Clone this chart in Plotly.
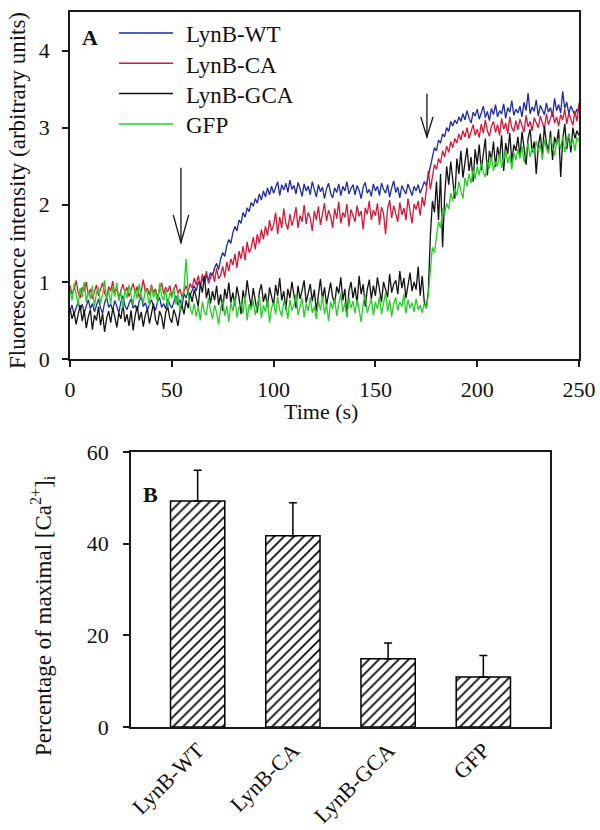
import plotly.graph_objects as go

# ---------------- Panel A data (time course, 1 s sampling) ----------------
time_s = list(range(0, 251))

lynb_wt = [
    0.62,0.70,0.58,0.66,0.74,0.63,0.71,0.60,0.68,0.77,
    0.65,0.72,0.61,0.69,0.78,0.66,0.59,0.73,0.80,0.67,
    0.71,0.63,0.76,0.68,0.60,0.74,0.82,0.69,0.64,0.72,
    0.78,0.66,0.70,0.62,0.75,0.81,0.68,0.73,0.64,0.70,
    0.77,0.69,0.63,0.74,0.80,0.67,0.72,0.65,0.78,0.71,
    0.66,0.74,0.82,0.70,0.77,0.68,0.85,0.79,0.88,0.83,
    0.90,0.95,0.88,1.00,0.96,1.04,0.99,1.08,1.02,1.12,
    1.08,1.18,1.24,1.16,1.30,1.38,1.33,1.47,1.55,1.50,
    1.64,1.72,1.66,1.80,1.76,1.90,1.84,1.96,1.91,2.03,
    1.98,2.08,2.02,2.14,2.06,2.18,2.10,2.22,2.13,2.24,
    2.15,2.22,2.30,2.12,2.26,2.19,2.28,2.16,2.32,2.20,
    2.25,2.14,2.29,2.21,2.11,2.27,2.18,2.24,2.13,2.30,
    2.19,2.10,2.26,2.17,2.23,2.08,2.21,2.28,2.15,2.09,
    2.22,2.16,2.27,2.12,2.24,2.18,2.30,2.14,2.21,2.26,
    2.13,2.25,2.19,2.08,2.23,2.29,2.15,2.20,2.11,2.27,
    2.18,2.24,2.12,2.28,2.20,2.15,2.26,2.10,2.22,2.31,
    2.16,2.23,2.09,2.25,2.19,2.14,2.27,2.20,2.12,2.24,
    2.18,2.26,2.15,2.22,2.30,2.25,2.38,2.50,2.62,2.74,
    2.70,2.84,2.80,2.92,2.88,3.00,2.95,3.08,3.02,3.10,
    3.05,3.14,3.08,3.18,3.10,3.22,3.12,3.06,3.20,3.15,
    3.24,3.11,3.19,3.28,3.13,3.21,3.09,3.25,3.17,3.30,
    3.14,3.22,3.18,3.31,3.12,3.26,3.20,3.35,3.16,3.24,
    3.19,3.28,3.14,3.33,3.22,3.45,3.18,3.27,3.21,3.36,
    3.15,3.29,3.23,3.17,3.32,3.20,3.26,3.14,3.38,3.22,
    3.30,3.19,3.47,3.25,3.33,3.18,3.28,3.22,3.16,3.24,
    3.20,
]

lynb_ca = [
    0.95,0.84,0.90,1.02,0.86,0.79,0.93,0.88,1.00,0.83,
    0.91,0.78,0.87,0.96,0.82,0.90,0.99,0.85,0.80,0.94,
    0.88,1.01,0.84,0.92,0.79,0.89,0.97,0.86,0.93,0.81,
    0.90,0.98,0.85,0.94,0.80,0.88,1.03,0.87,0.92,0.83,
    0.96,0.86,0.91,0.80,0.89,0.99,0.84,0.93,0.87,0.95,
    0.82,0.90,0.97,0.85,0.91,0.80,0.88,0.95,0.86,0.98,
    0.92,1.05,0.96,1.08,0.94,1.10,1.00,1.14,0.98,1.06,
    1.12,1.00,1.18,1.04,1.09,1.20,1.06,1.26,1.14,1.30,
    1.22,1.36,1.18,1.40,1.30,1.46,1.28,1.52,1.38,1.44,
    1.58,1.42,1.62,1.50,1.68,1.55,1.72,1.60,1.80,1.66,
    1.74,1.90,1.62,1.84,1.70,1.95,1.76,1.68,1.88,1.73,
    1.82,1.97,1.70,1.86,1.78,2.00,1.75,1.90,1.83,1.66,
    1.92,1.80,1.98,1.74,1.88,2.02,1.79,1.93,1.85,1.70,
    1.95,1.82,2.04,1.76,1.90,1.84,2.01,1.72,1.94,1.86,
    1.78,1.99,1.85,1.92,1.68,1.96,1.88,2.05,1.80,1.93,
    1.86,2.02,1.74,1.97,1.89,1.62,1.95,2.06,1.83,1.99,
    1.90,1.78,2.03,1.87,1.96,1.80,2.08,1.92,1.76,2.01,
    1.94,2.05,1.86,2.10,1.98,2.18,2.44,2.20,2.36,2.52,
    2.46,2.60,2.54,2.70,2.62,2.76,2.68,2.82,2.74,2.86,
    2.80,2.92,2.84,2.96,2.88,3.00,2.86,2.94,3.04,2.90,
    2.98,2.87,3.05,2.93,3.10,2.96,2.89,3.02,3.08,2.94,
    3.04,2.90,3.12,2.98,3.06,2.92,3.14,3.00,2.95,3.09,
    2.97,3.11,3.03,2.94,3.16,3.01,3.08,2.96,3.13,3.05,
    3.00,3.15,3.07,2.98,3.18,3.04,3.12,3.21,3.06,3.14,
    3.02,3.17,3.10,3.24,3.05,3.19,3.11,3.03,3.22,3.08,
    3.32,
]

lynb_gca = [
    0.66,0.52,0.61,0.45,0.58,0.70,0.49,0.63,0.40,0.55,
    0.64,0.38,0.57,0.50,0.68,0.44,0.59,0.35,0.53,0.62,
    0.47,0.66,0.55,0.41,0.60,0.52,0.71,0.48,0.58,0.43,
    0.63,0.37,0.56,0.69,0.50,0.61,0.42,0.57,0.65,0.46,
    0.59,0.72,0.51,0.44,0.62,0.55,0.39,0.60,0.68,0.53,
    0.47,0.64,0.56,0.43,0.61,0.70,0.58,0.76,0.66,0.85,
    0.74,0.90,0.80,0.68,0.98,0.86,1.08,0.79,0.92,0.72,
    0.88,0.76,0.95,0.70,0.84,0.62,0.91,0.78,0.99,0.73,
    0.86,0.69,0.94,0.80,0.58,0.89,0.75,1.02,0.83,0.67,
    0.92,0.78,0.60,0.87,0.97,0.74,0.85,0.68,0.93,0.81,
    0.70,0.96,0.82,1.05,0.76,0.88,0.64,0.91,0.79,1.00,
    0.84,0.66,0.95,0.78,0.89,1.02,0.73,0.86,0.97,0.75,
    0.90,0.62,0.83,1.04,0.77,0.93,0.70,0.87,0.99,0.80,
    0.72,0.94,0.85,1.06,0.76,0.91,0.55,0.88,1.00,0.79,
    0.93,0.71,1.08,0.84,0.97,0.68,0.90,1.03,0.78,0.95,
    0.82,1.06,0.88,0.74,1.00,0.91,0.80,1.10,0.86,0.97,
    1.02,0.84,1.14,0.92,1.05,0.79,0.98,1.12,0.88,1.00,
    0.90,1.20,0.82,1.08,0.74,0.66,0.88,1.60,2.05,1.90,
    2.30,1.80,2.40,1.45,2.10,2.50,2.26,2.56,2.32,2.08,
    2.60,2.40,2.70,2.35,2.55,2.74,2.44,2.62,2.30,2.72,
    2.52,2.78,2.45,2.66,2.86,2.38,2.70,2.58,2.82,2.49,
    2.75,2.60,2.90,2.44,2.80,2.66,2.93,2.55,2.78,2.70,
    2.88,2.62,2.95,2.74,2.52,2.86,2.98,2.68,2.82,2.40,
    2.76,2.92,2.64,3.02,2.80,2.70,2.96,2.58,2.88,2.78,
    2.98,2.36,2.84,3.05,2.72,2.92,2.68,3.00,2.86,2.96,
    2.90,
]

gfp = [
    0.90,0.76,0.98,0.84,0.70,0.92,0.80,1.00,0.74,0.88,
    0.78,0.95,0.68,0.86,0.93,0.72,0.83,1.02,0.77,0.89,
    0.71,0.94,0.81,0.99,0.75,0.87,0.66,0.91,0.79,0.96,
    0.84,0.70,0.92,0.78,0.97,0.82,0.73,0.90,0.85,0.69,
    0.94,0.80,0.88,0.72,0.98,0.83,0.76,0.91,0.67,0.86,
    0.79,0.93,0.71,0.84,0.62,0.78,0.92,1.30,0.88,0.66,
    0.58,0.72,0.55,0.68,0.50,0.74,0.61,0.57,0.79,0.63,
    0.52,0.70,0.60,0.45,0.66,0.77,0.56,0.69,0.48,0.73,
    0.62,0.80,0.54,0.67,0.74,0.59,0.83,0.50,0.71,0.64,
    0.76,0.57,0.68,0.82,0.53,0.70,0.61,0.78,0.47,0.66,
    0.73,0.58,0.81,0.64,0.55,0.75,0.69,0.52,0.77,0.63,
    0.70,0.84,0.57,0.67,0.79,0.54,0.72,0.62,0.80,0.60,
    0.68,0.52,0.76,0.63,0.82,0.58,0.71,0.49,0.74,0.65,
    0.79,0.56,0.70,0.85,0.61,0.73,0.54,0.80,0.66,0.75,
    0.59,0.77,0.64,0.48,0.72,0.83,0.60,0.69,0.78,0.57,
    0.74,0.65,0.81,0.58,0.70,0.86,0.62,0.76,0.55,0.72,
    0.80,0.63,0.74,0.68,0.84,0.59,0.77,0.66,0.73,0.61,
    0.78,0.64,0.70,0.60,0.72,0.66,0.84,1.10,1.45,1.38,
    1.62,1.78,1.70,1.95,1.88,2.02,1.94,2.15,2.05,2.22,
    2.12,2.30,2.18,2.08,2.35,2.24,2.40,2.28,2.45,2.33,
    2.50,2.38,2.55,2.42,2.36,2.58,2.47,2.62,2.44,2.56,
    2.50,2.66,2.48,2.60,2.70,2.54,2.64,2.46,2.68,2.58,
    2.72,2.60,2.76,2.55,2.68,2.80,2.62,2.74,2.66,2.83,
    2.70,2.78,2.58,2.84,2.73,2.66,2.88,2.75,2.64,2.81,
    2.86,2.72,2.90,2.68,2.80,2.92,2.76,2.85,2.70,2.88,
    2.82,
]

series_names = ["LynB-WT", "LynB-CA", "LynB-GCA", "GFP"]
series_values = [lynb_wt, lynb_ca, lynb_gca, gfp]
series_colors = ["#1c2aa6", "#dc1434", "#111111", "#22d022"]

for s in series_values:
    assert len(s) == len(time_s), len(s)

# stimulus arrows (time in s)
arrow_times = [54.5, 175.3]

# ---------------- Panel B data ----------------
categories = ["LynB-WT", "LynB-CA", "LynB-GCA", "GFP"]
pct_mean = [49.3, 41.7, 14.9, 10.9]
pct_err = [6.7, 7.2, 3.4, 4.7]

# ---------------- Figure ----------------
W, H = 600, 830
FONT = "Liberation Serif"
AX = "#1a1a1a"
TXT = "#111"


def px_x(p):
    return p / W


def px_y(p):
    return 1 - p / H


fig = go.Figure()

for name, vals, col in zip(series_names, series_values, series_colors):
    fig.add_trace(go.Scatter(
        x=time_s, y=vals, mode="lines", name=name,
        line=dict(color=col, width=1.3),
        xaxis="x", yaxis="y", showlegend=False,
    ))

fig.add_trace(go.Bar(
    x=categories, y=pct_mean, width=0.57,
    marker=dict(
        color="white",
        line=dict(color="black", width=1.5),
        pattern=dict(shape="/", fgcolor="black", bgcolor="white", size=7, solidity=0.24),
    ),
    error_y=dict(type="data", array=pct_err, arrayminus=[0] * len(pct_err),
                 symmetric=False, color="black", thickness=1.5, width=4),
    xaxis="x2", yaxis="y2", showlegend=False,
))

tickfont = dict(family=FONT, size=22, color=TXT)
common = dict(showgrid=False, zeroline=False, showline=True, linecolor=AX, linewidth=1.5,
              mirror=True, ticks="outside", ticklen=6, tickwidth=1.5, tickcolor=AX,
              tickfont=tickfont)

fig.update_layout(
    width=W, height=H,
    margin=dict(l=0, r=0, t=0, b=0),
    paper_bgcolor="white", plot_bgcolor="white",
    template="none",
    font=dict(family=FONT, color=TXT),
    xaxis=dict(domain=[px_x(70), px_x(579)], range=[0, 250],
               tickvals=[0, 50, 100, 150, 200, 250], anchor="y",
               ticklabelstandoff=4, **common),
    yaxis=dict(domain=[px_y(359), px_y(12)], range=[0, 4.5],
               tickvals=[0, 1, 2, 3, 4], anchor="x",
               ticklabelstandoff=8, **common),
    xaxis2=dict(domain=[px_x(131), px_x(550)], range=[-0.7, 3.7],
                anchor="y2", tickangle=-45, **{**common, "ticks": ""}),
    yaxis2=dict(domain=[px_y(727), px_y(452)], range=[0, 60],
                tickvals=[0, 20, 40, 60], anchor="x2",
                ticklabelstandoff=10, **common),
)


def note(text, x, y, size=22, angle=0, xanchor="center"):
    return dict(text=text, x=px_x(x), y=px_y(y), xref="paper", yref="paper",
                xanchor=xanchor, yanchor="middle", textangle=angle, showarrow=False,
                font=dict(family=FONT, size=size, color=TXT))


annotations = [
    note("<b>A</b>", 90, 37),
    note("<b>B</b>", 150, 494),
    note("Fluorescence intensity (arbitrary units)", 17, 191, size=23, angle=-90),
    note("Time (s)", 321, 411),
    note("Percentage of maximal [Ca<sup>2+</sup>]<sub>i</sub>", 42, 616, size=23, angle=-90),
]

shapes = []
# manual legend
for i, (name, col) in enumerate(zip(series_names, series_colors)):
    yy = 33 + 30.3 * i
    shapes.append(dict(type="line", xref="paper", yref="paper",
                       x0=px_x(119), x1=px_x(173), y0=px_y(yy), y1=px_y(yy),
                       line=dict(color=col, width=1.5)))
    annotations.append(note(name, 184, yy + 2, size=23, xanchor="left"))

# stimulus arrows (open V heads), in data coordinates
arrow_geom = [  # (top, tip, head length, half width in s)
    (2.48, 1.51, 0.36, 3.8),
    (3.44, 2.88, 0.26, 3.0),
]
for t, (top, tip, hl, hw) in zip(arrow_times, arrow_geom):
    shapes.append(dict(type="line", xref="x", yref="y", x0=t, x1=t, y0=top, y1=tip,
                       line=dict(color=TXT, width=1.3)))
    shapes.append(dict(type="path", xref="x", yref="y",
                       path=f"M {t-hw},{tip+hl} L {t},{tip} L {t+hw},{tip+hl}",
                       line=dict(color=TXT, width=1.3)))

fig.update_layout(annotations=annotations, shapes=shapes)

fig.write_html("out.html", config={"displayModeBar": False},
               post_script="document.body.style.margin='0px';")
